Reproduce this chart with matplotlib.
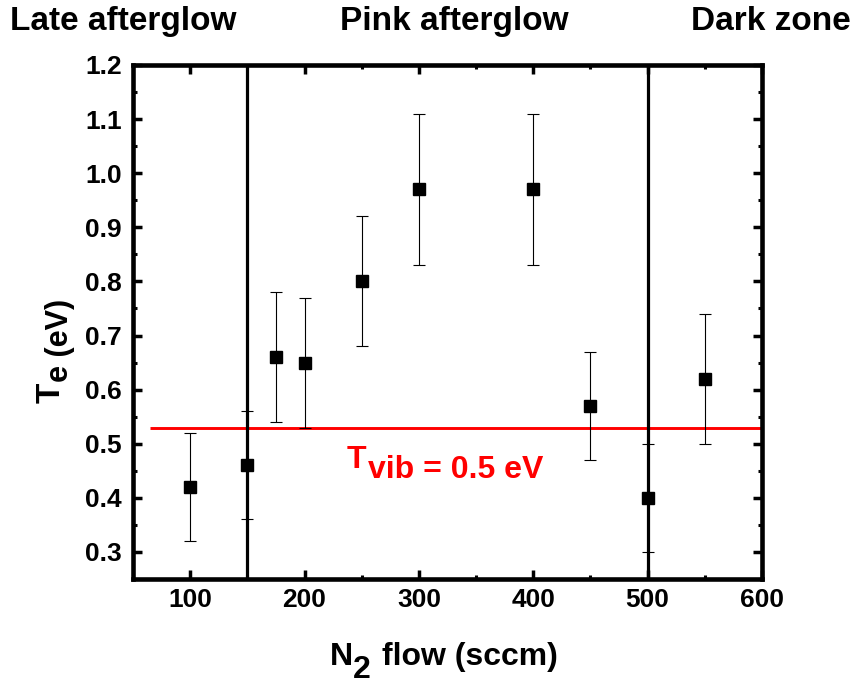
import matplotlib
matplotlib.use("Agg")
import matplotlib.pyplot as plt
from matplotlib.ticker import MultipleLocator

plt.rcParams['font.family'] = ['Liberation Sans', 'DejaVu Sans']
plt.rcParams['font.weight'] = 'bold'

# N2 flow (sccm) and electron temperature (eV) with uncertainties
flow = [100, 150, 175, 200, 250, 300, 400, 450, 500, 550]
te = [0.42, 0.46, 0.66, 0.65, 0.80, 0.97, 0.97, 0.57, 0.40, 0.62]
te_err = [0.10, 0.10, 0.12, 0.12, 0.12, 0.14, 0.14, 0.10, 0.10, 0.12]

# zone boundaries and vibrational temperature reference
boundaries = [150, 500]
t_vib_level = 0.53
t_vib_span = [65, 600]

zone_names = ["Late afterglow", "Pink afterglow", "Dark zone"]
x_ticks = [100, 200, 300, 400, 500, 600]
y_ticks = [0.3, 0.4, 0.5, 0.6, 0.7, 0.8, 0.9, 1.0, 1.1, 1.2]

W, H = 857, 684
fig = plt.figure(figsize=(W / 100, H / 100), dpi=100)
ax = fig.add_axes([133 / W, 1 - 579 / H, (762 - 133) / W, (579 - 65) / H])


def px(x, y):
    """Pixel position (from top-left) to figure fraction."""
    return x / W, 1 - y / H


ax.hlines(t_vib_level, t_vib_span[0], t_vib_span[1], color='#ff0000', lw=2.1, zorder=2)
for b in boundaries:
    ax.axvline(b, color='black', lw=2.3, zorder=2)

ax.errorbar(flow, te, yerr=te_err, fmt='s', color='black', ms=9,
            ecolor='black', elinewidth=0.8, capsize=4.5, capthick=0.8, zorder=3)

ax.set_xlim(50, 600)
ax.set_ylim(0.25, 1.2)
ax.set_xticks(x_ticks)
ax.set_yticks(y_ticks)
ax.set_yticklabels([f"{v:.1f}" for v in y_ticks])
ax.xaxis.set_minor_locator(MultipleLocator(50))
ax.yaxis.set_minor_locator(MultipleLocator(0.05))

ax.tick_params(which='both', direction='in', top=True, right=True, labelsize=19)
ax.tick_params(which='major', length=6.5, width=2.5)
ax.tick_params(which='minor', length=3, width=2.2)
ax.tick_params(axis='x', which='major', pad=6.5)
ax.tick_params(axis='y', which='major', pad=8)
for s in ax.spines.values():
    s.set_linewidth(3.3)

# x-axis title: N2 flow (sccm)
fig.text(*px(330, 665), "N", fontsize=23, fontweight='bold', ha='left', va='baseline')
fig.text(*px(353, 678), "2", fontsize=23, fontweight='bold', ha='left', va='baseline')
fig.text(*px(382, 665), "flow (sccm)", fontsize=23, fontweight='bold', ha='left', va='baseline')

# y-axis title: Te (eV)
fig.text(*px(60, 403), "T", fontsize=24, fontweight='bold', rotation=90,
         rotation_mode='anchor', ha='left', va='baseline')
fig.text(*px(68, 382), "e (eV)", fontsize=22, fontweight='bold', rotation=90,
         rotation_mode='anchor', ha='left', va='baseline')

# Tvib annotation
fig.text(*px(347, 468), "T", fontsize=23, fontweight='bold', color='#ff0000',
         ha='left', va='baseline')
fig.text(*px(368, 478), "vib = 0.5 eV", fontsize=23, fontweight='bold', color='#ff0000',
         ha='left', va='baseline')

# zone names above the plot
fig.text(*px(10, 30), zone_names[0], fontsize=24, fontweight='bold', ha='left', va='baseline')
fig.text(*px(340, 30), zone_names[1], fontsize=24, fontweight='bold', ha='left', va='baseline')
fig.text(*px(851, 30), zone_names[2], fontsize=24, fontweight='bold', ha='right', va='baseline')

fig.savefig('out.png', dpi=100)
